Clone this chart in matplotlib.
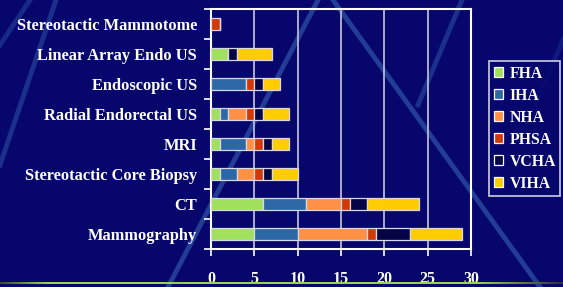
import numpy as np
import matplotlib
matplotlib.use("Agg")
import matplotlib.pyplot as plt
from matplotlib.lines import Line2D
from matplotlib.colors import LinearSegmentedColormap

# categories, bottom to top
categories = ["Mammography", "CT", "Stereotactic Core Biopsy", "MRI",
              "Radial Endorectal US", "Endoscopic US", "Linear Array Endo US",
              "Stereotactic Mammotome"]

FHA = [5, 6, 1, 1, 1, 0, 2, 0]
IHA = [5, 5, 2, 3, 1, 4, 0, 0]
NHA = [8, 4, 2, 1, 2, 0, 0, 0]
PHSA = [1, 1, 1, 1, 1, 1, 0, 1]
VCHA = [4, 2, 1, 1, 1, 1, 1, 0]
VIHA = [6, 6, 3, 2, 3, 2, 4, 0]

series = [("FHA", FHA, "#a0e05c"), ("IHA", IHA, "#2c68a6"),
          ("NHA", NHA, "#ff9147"), ("PHSA", PHSA, "#d03a06"),
          ("VCHA", VCHA, "#050545"), ("VIHA", VIHA, "#ffcc00")]

bg = "#06066c"
font = ["Liberation Serif", "DejaVu Serif"]

fig = plt.figure(figsize=(5.63, 2.87), dpi=100)
fig.patch.set_facecolor(bg)

# decorative stripes of the slide background
stripes = [((168, 287), (318, 0), 0.4),
           ((333, 0), (540, 287), 0.4),
           ((462, 0), (418, 105), 0.3),
           ((56, 0), (0, 165), 0.3),
           ((0, 45), (30, 0), 0.25),
           ((563, 40), (520, 140), 0.15)]
for (x0, y0), (x1, y1), a in stripes:
    fig.add_artist(Line2D([x0 / 563, x1 / 563], [1 - y0 / 287, 1 - y1 / 287],
                          transform=fig.transFigure, color="#4f8fd6",
                          lw=3.5, alpha=a, zorder=-5))

ax = fig.add_axes([211 / 563, 38 / 287, 260 / 563, 240 / 287])
ax.set_facecolor("none")

y = np.arange(len(categories))
left = np.zeros(len(categories))
for name, vals, col in series:
    ax.barh(y, vals, left=left, height=0.4, color=col, edgecolor="#d8d8e8",
            linewidth=0.9, label=name, zorder=3)
    left += np.array(vals)

ax.set_xlim(0, 30)
ax.set_ylim(-0.5, len(categories) - 0.5)
ax.set_xticks(range(0, 31, 5))
ax.set_yticks(y)
ax.set_yticklabels(categories)
ax.set_yticks(np.arange(-0.5, len(categories)), minor=True)
ax.tick_params(axis="y", which="major", length=0, pad=10)
ax.tick_params(axis="y", which="minor", length=5, color="white", width=1.2)
ax.tick_params(axis="x", length=5, color="white", width=1.2, pad=11)
for lab in ax.get_yticklabels():
    lab.set_color("white")
    lab.set_family(font)
    lab.set_fontweight("bold")
    lab.set_fontsize(11.8)
for lab in ax.get_xticklabels():
    lab.set_color("white")
    lab.set_family(font)
    lab.set_fontweight("bold")
    lab.set_fontsize(11.5)

ax.grid(axis="x", color="#b8b8d0", lw=1.3, zorder=1)
for s in ax.spines.values():
    s.set_color("white")
    s.set_linewidth(1.5)

leg = ax.legend(loc="upper left", bbox_to_anchor=(489 / 563, 1 - 61 / 287),
                bbox_transform=fig.transFigure, frameon=True, fancybox=False,
                facecolor=bg, edgecolor="white", handlelength=0.6,
                handleheight=0.6, handletextpad=0.4, labelspacing=0.38,
                borderpad=0.3, borderaxespad=0,
                prop={"family": font, "weight": "bold", "size": 11.3})
leg.get_frame().set_linewidth(1.2)
for t in leg.get_texts():
    t.set_color("white")
for h in leg.legend_handles:
    h.set_edgecolor("white")

# green rule at the bottom of the slide
gax = fig.add_axes([0, 3 / 287, 1, 2.5 / 287])
cmap = LinearSegmentedColormap.from_list(
    "g", [(0, "#3a4a30"), (0.08, "#98d058"), (0.85, "#98d058"), (1, "#303040")])
gax.imshow(np.linspace(0, 1, 256)[None, :], aspect="auto", cmap=cmap)
gax.axis("off")

fig.savefig("out.png", dpi=100, facecolor=bg)
